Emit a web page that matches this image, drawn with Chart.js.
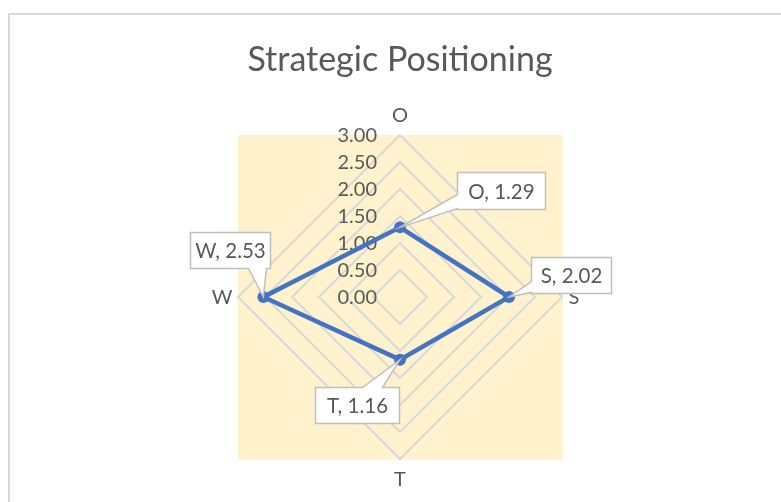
<!DOCTYPE html>
<html>
<head>
<meta charset="utf-8">
<script src="https://cdn.jsdelivr.net/npm/chart.js@4.4.1/dist/chart.umd.min.js"></script>
<style>
  html, body { margin: 0; padding: 0; background: #ffffff; }
  canvas { display: block; }
</style>
</head>
<body>
<canvas id="myChart" width="781" height="502"></canvas>
<script>
// data
const categories = ['O', 'S', 'T', 'W'];
const scores = [1.29, 2.02, 1.16, 2.53];
const tickValues = [0, 0.5, 1, 1.5, 2, 2.5, 3];

const textGray = '#595959';
const gridGray = '#D9D9D9';

// callout boxes, offsets from their point (style only)
const calloutBoxes = [
  { dx: 57, dy: -55, w: 88, h: 37, side: 'left', a: 22, b: 36 },
  { dx: 22, dy: -40, w: 80, h: 36, side: 'left', a: 24, b: 35 },
  { dx: -85, dy: 27, w: 84, h: 36, side: 'top', a: 47, b: 67 },
  { dx: -73, dy: -65, w: 80, h: 36, side: 'bottom', a: 58, b: 76 }
];

function calloutPath(ctx, x, y, w, h, side, a, b, tx, ty) {
  ctx.beginPath();
  ctx.moveTo(x, y);
  if (side === 'top') { ctx.lineTo(x + a, y); ctx.lineTo(tx, ty); ctx.lineTo(x + b, y); }
  ctx.lineTo(x + w, y);
  ctx.lineTo(x + w, y + h);
  if (side === 'bottom') { ctx.lineTo(x + b, y + h); ctx.lineTo(tx, ty); ctx.lineTo(x + a, y + h); }
  ctx.lineTo(x, y + h);
  if (side === 'left') { ctx.lineTo(x, y + b); ctx.lineTo(tx, ty); ctx.lineTo(x, y + a); }
  ctx.closePath();
}

const chartDecor = {
  id: 'chartDecor',
  beforeDraw(chart) {
    const ctx = chart.ctx;
    const r = chart.scales.r;
    ctx.save();
    ctx.fillStyle = '#ffffff';
    ctx.fillRect(0, 0, chart.width, chart.height);
    ctx.strokeStyle = gridGray;
    ctx.lineWidth = 2;
    ctx.strokeRect(9, 14, 900, 700);
    ctx.fillStyle = '#FFF2CC';
    ctx.fillRect(r.xCenter - r.drawingArea, r.yCenter - r.drawingArea, r.drawingArea * 2 + 1, r.drawingArea * 2 + 1);
    ctx.restore();
  },
  beforeDatasetsDraw(chart) {
    const ctx = chart.ctx;
    const r = chart.scales.r;
    ctx.save();
    ctx.fillStyle = textGray;
    // tick labels, right aligned left of the centre
    ctx.font = '20px Lato';
    ctx.textAlign = 'right';
    ctx.textBaseline = 'middle';
    r.ticks.forEach((t) => {
      const d = r.getDistanceFromCenterForValue(t.value);
      ctx.fillText(t.value.toFixed(2), r.xCenter - 23, r.yCenter - d + 1);
    });
    // category labels
    ctx.textAlign = 'center';
    categories.forEach((c, i) => {
      const vertical = (i % 2 === 0);
      const p = r.getPointPosition(i, r.drawingArea + (vertical ? 20 : 176 - r.drawingArea + (i === 1 ? -2 : 2)) );
      ctx.fillText(c, p.x, p.y + 1);
    });
    ctx.restore();
  },
  afterDatasetsDraw(chart) {
    const ctx = chart.ctx;
    const meta = chart.getDatasetMeta(0);
    ctx.save();
    ctx.font = '20.5px Lato';
    ctx.textAlign = 'center';
    ctx.textBaseline = 'middle';
    meta.data.forEach((pt, i) => {
      const box = calloutBoxes[i];
      const x = Math.round(pt.x + box.dx) + 0.5;
      const y = Math.round(pt.y + box.dy) + 0.5;
      calloutPath(ctx, x, y, box.w, box.h, box.side, box.a, box.b, pt.x, pt.y);
      ctx.fillStyle = '#ffffff';
      ctx.fill();
      ctx.strokeStyle = '#BFBFBF';
      ctx.lineWidth = 1.5;
      ctx.stroke();
      ctx.fillStyle = textGray;
      ctx.fillText(categories[i] + ', ' + scores[i].toFixed(2), x + box.w / 2, y + box.h / 2 + 1);
    });
    ctx.restore();
  }
};

function drawChart() {
  Chart.defaults.font.family = 'Lato';
  new Chart(document.getElementById('myChart'), {
    type: 'radar',
    data: {
      labels: categories,
      datasets: [{
        label: 'Score',
        data: scores,
        borderColor: '#4472C4',
        backgroundColor: '#4472C4',
        borderWidth: 4.5,
        pointRadius: 6,
        pointBorderWidth: 0,
        pointBackgroundColor: '#4472C4',
        fill: false,
        tension: 0
      }]
    },
    options: {
      responsive: false,
      animation: false,
      layout: { padding: { left: 238, right: 219, top: 0, bottom: 43 } },
      plugins: {
        legend: { display: false },
        tooltip: { enabled: false },
        title: {
          display: true,
          text: 'Strategic Positioning',
          color: textGray,
          font: { size: 34, weight: 'normal', family: 'Lato' },
          padding: { top: 39.6, bottom: 54.6 }
        }
      },
      scales: {
        r: {
          min: 0,
          max: 3,
          ticks: { stepSize: 0.5, display: false },
          afterBuildTicks: (scale) => { scale.ticks = tickValues.map((v) => ({ value: v })); },
          grid: { circular: false, color: gridGray, lineWidth: 2 },
          angleLines: { display: false },
          pointLabels: { display: false }
        }
      }
    },
    plugins: [chartDecor]
  });
}

document.fonts.load('18px Lato').then(drawChart, drawChart);
</script>
</body>
</html>
